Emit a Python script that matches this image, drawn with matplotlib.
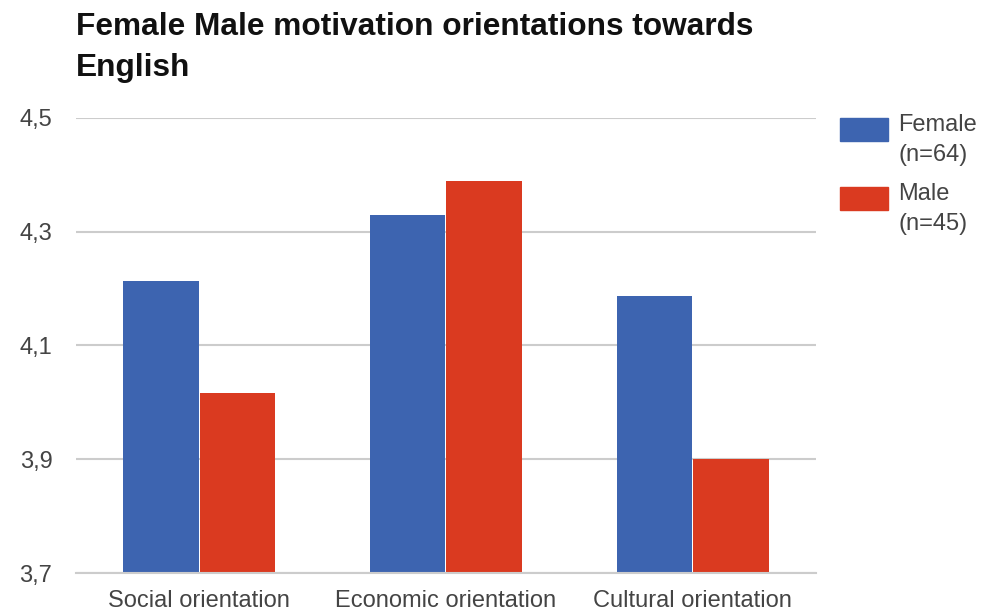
import numpy as np
import matplotlib
matplotlib.use("Agg")
from matplotlib import pyplot as plt
from matplotlib.patches import Rectangle

plt.rcParams['font.family'] = ['Liberation Sans', 'DejaVu Sans']

categories = ['Social orientation', 'Economic orientation', 'Cultural orientation']
female = [4.213, 4.329, 4.186]
male = [4.016, 4.389, 3.900]
series_labels = ['Female\n(n=64)', 'Male\n(n=45)']
yticks = [3.7, 3.9, 4.1, 4.3, 4.5]
ytick_labels = ['3,7', '3,9', '4,1', '4,3', '4,5']
title_lines = ['Female Male motivation orientations towards', 'English']

blue = '#3d64b0'
red = '#da3a20'
txt = '#444444'
W, H = 984, 614

fig = plt.figure(figsize=(9.84, 6.14), dpi=100)
ax = fig.add_axes([0.0772, 0.066, 0.752, 0.7426])

x = np.arange(len(categories))
w = 0.306
ax.bar(x - w / 2 - 0.002, female, w, color=blue, zorder=3)
ax.bar(x + w / 2 + 0.002, male, w, color=red, zorder=3)

ax.set_xlim(-0.5, 2.5)
ax.set_ylim(3.7, 4.5)
ax.set_yticks(yticks)
ax.set_yticklabels(ytick_labels)
ax.set_xticks(x)
ax.set_xticklabels(categories)
ax.tick_params(axis='both', length=0, labelsize=17, colors=txt)
ax.tick_params(axis='y', pad=17)
ax.tick_params(axis='x', pad=12)
ax.grid(axis='y', color='#cccccc', linewidth=1.5, zorder=0)
ax.set_axisbelow(True)
for s in ax.spines.values():
    s.set_visible(False)
ax.axhline(3.7, color='#cccccc', linewidth=1.5, zorder=4, clip_on=False)

# two-line bold title, baselines placed separately
for line, base in zip(title_lines, [35, 76]):
    fig.text(76 / W, 1 - base / H, line, fontsize=22.8, fontweight='bold',
             color='#111111', va='baseline')

# legend on the right, swatch next to the first line of each label
for i, (lab, col) in enumerate(zip(series_labels, [blue, red])):
    top = 118 + i * 69
    fig.patches.append(Rectangle((840 / W, 1 - (top + 23) / H), 48 / W, 23 / H,
                                 transform=fig.transFigure, color=col))
    fig.text(898 / W, 1 - (top - 4) / H, lab, fontsize=17, color=txt,
             va='top', linespacing=1.45)

fig.savefig('out.png', dpi=100)
